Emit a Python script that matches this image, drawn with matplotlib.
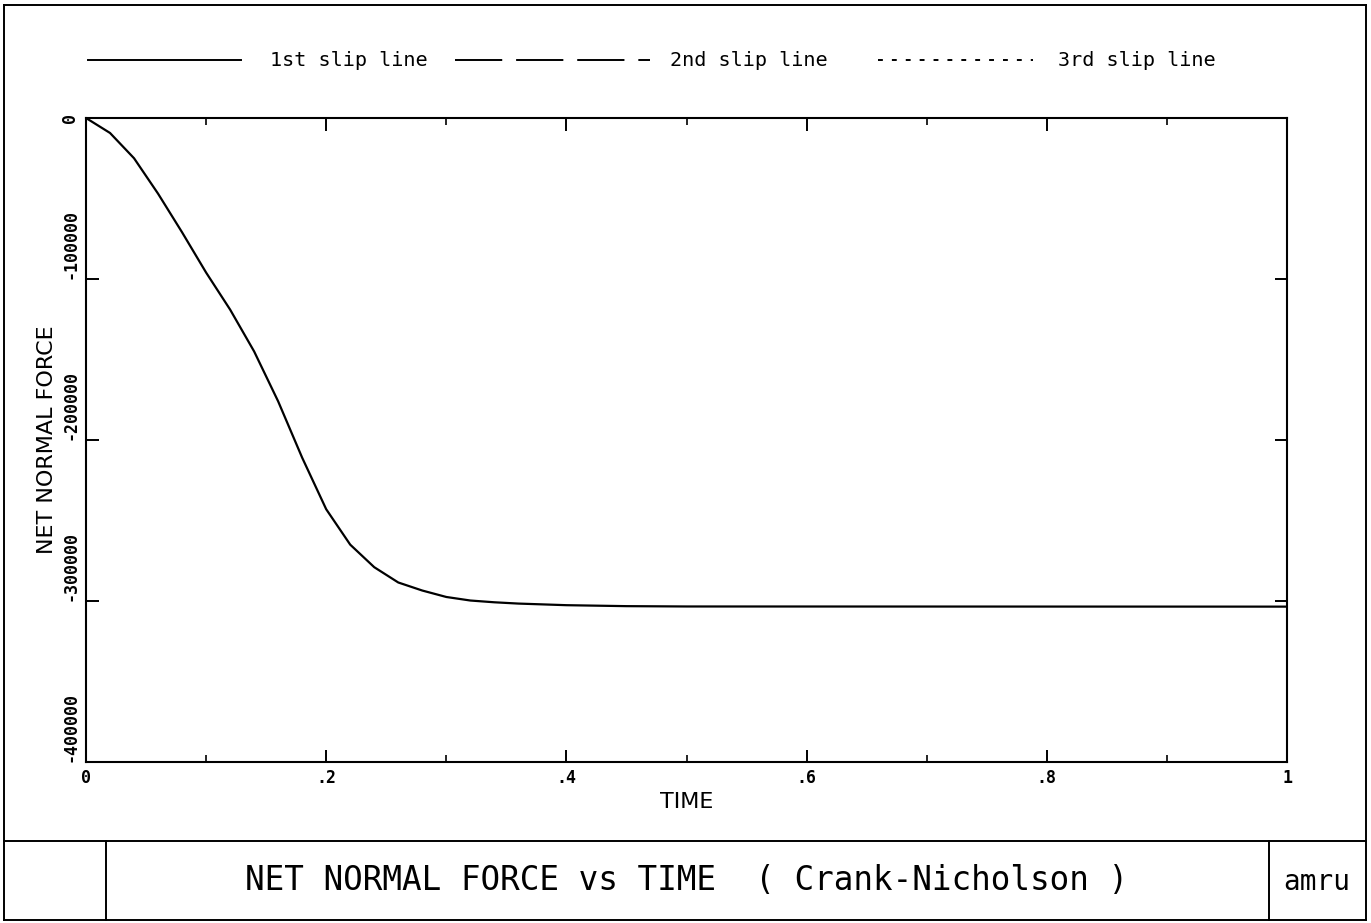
"""Net normal force vs time (Crank-Nicholson), plotter-style chart."""

import matplotlib

matplotlib.use("Agg")
import matplotlib.pyplot as plt
from matplotlib.lines import Line2D

# data
time = [0.0, 0.02, 0.04, 0.06, 0.08, 0.10, 0.12, 0.14, 0.16, 0.18, 0.20,
        0.22, 0.24, 0.26, 0.28, 0.30, 0.32, 0.34, 0.36, 0.40, 0.45, 0.50, 1.0]
force = [0, -9300, -25000, -47000, -71000, -96000, -119000, -145000,
         -176000, -211000, -243000, -265000, -279000, -288500, -293500,
         -297500, -299700, -300800, -301600, -302600, -303200, -303400,
         -303500]

x_ticks = [0, 0.2, 0.4, 0.6, 0.8, 1.0]
x_tick_labels = ["0", ".2", ".4", ".6", ".8", "1"]
y_ticks = [0, -100000, -200000, -300000, -400000]
y_tick_labels = ["0", "-100000", "-200000", "-300000", "-400000"]
legend_labels = ["1st slip line", "2nd slip line", "3rd slip line"]

W, H = 1371, 923
MONO = "DejaVu Sans Mono"

plt.rcParams["lines.scale_dashes"] = False


def fx(px):
    return px / W


def fy(py):
    return (H - py) / H


fig = plt.figure(figsize=(W / 100, H / 100), dpi=100)
ax = fig.add_axes([fx(86), fy(762), (1287 - 86) / W, (762 - 118) / H])

ax.plot(time, force, color="black", lw=1.6)
ax.set_xlim(0, 1)
ax.set_ylim(-400000, 0)

ax.set_xticks(x_ticks)
ax.set_xticklabels(x_tick_labels, family=MONO, fontsize=12, weight="bold")
ax.set_xticks([0.1, 0.3, 0.5, 0.7, 0.9], minor=True)
ax.set_yticks(y_ticks)
ax.set_yticklabels(y_tick_labels, family=MONO, fontsize=12, weight="bold",
                   rotation=90, va="bottom")
ax.get_yticklabels()[0].set_va("center")

ax.tick_params(which="major", direction="in", length=9, width=1.4,
               top=True, right=True, pad=5)
ax.tick_params(which="minor", direction="in", length=5, width=1.2,
               top=True, right=False)
for spine in ax.spines.values():
    spine.set_linewidth(1.5)

ax.set_xlabel("TIME", fontsize=16, va="top")
ax.xaxis.set_label_coords(0.5, -0.047)
ax.set_ylabel("NET NORMAL FORCE", fontsize=16)
ax.yaxis.set_label_coords(-0.024, 0.5)

# legend drawn along the top of the sheet
styles = [
    dict(linestyle="-"),
    dict(linestyle=(0, (34, 10))),
    dict(linestyle=(0, (3.5, 6.5))),
]
segments = [(88, 241), (455, 650), (878, 1033)]
text_x = [270, 670, 1058]
for label, style, (x0, x1), tx in zip(legend_labels, styles, segments, text_x):
    fig.add_artist(Line2D([fx(x0), fx(x1)], [fy(60), fy(60)],
                          transform=fig.transFigure, color="black",
                          lw=1.4, **style))
    fig.text(fx(tx), fy(60), label, family=MONO, fontsize=14.5,
             ha="left", va="center")

# sheet frame and title block
frame = [
    ([4, 1366], [5, 5]),
    ([4, 1366], [920, 920]),
    ([4, 4], [5, 920]),
    ([1366, 1366], [5, 920]),
    ([4, 1366], [841, 841]),
    ([106, 106], [841, 920]),
    ([1269, 1269], [841, 920]),
]
for xs, ys in frame:
    fig.add_artist(Line2D([fx(v) for v in xs], [fy(v) for v in ys],
                          transform=fig.transFigure, color="black", lw=1.4))

fig.text(fx(687), fy(880), "NET NORMAL FORCE vs TIME  ( Crank-Nicholson )",
         family=MONO, fontsize=23.5, ha="center", va="center")
fig.text(fx(1317), fy(882), "amru", family=MONO, fontsize=20,
         ha="center", va="center")

fig.savefig("out.png", dpi=100)
plt.close(fig)
